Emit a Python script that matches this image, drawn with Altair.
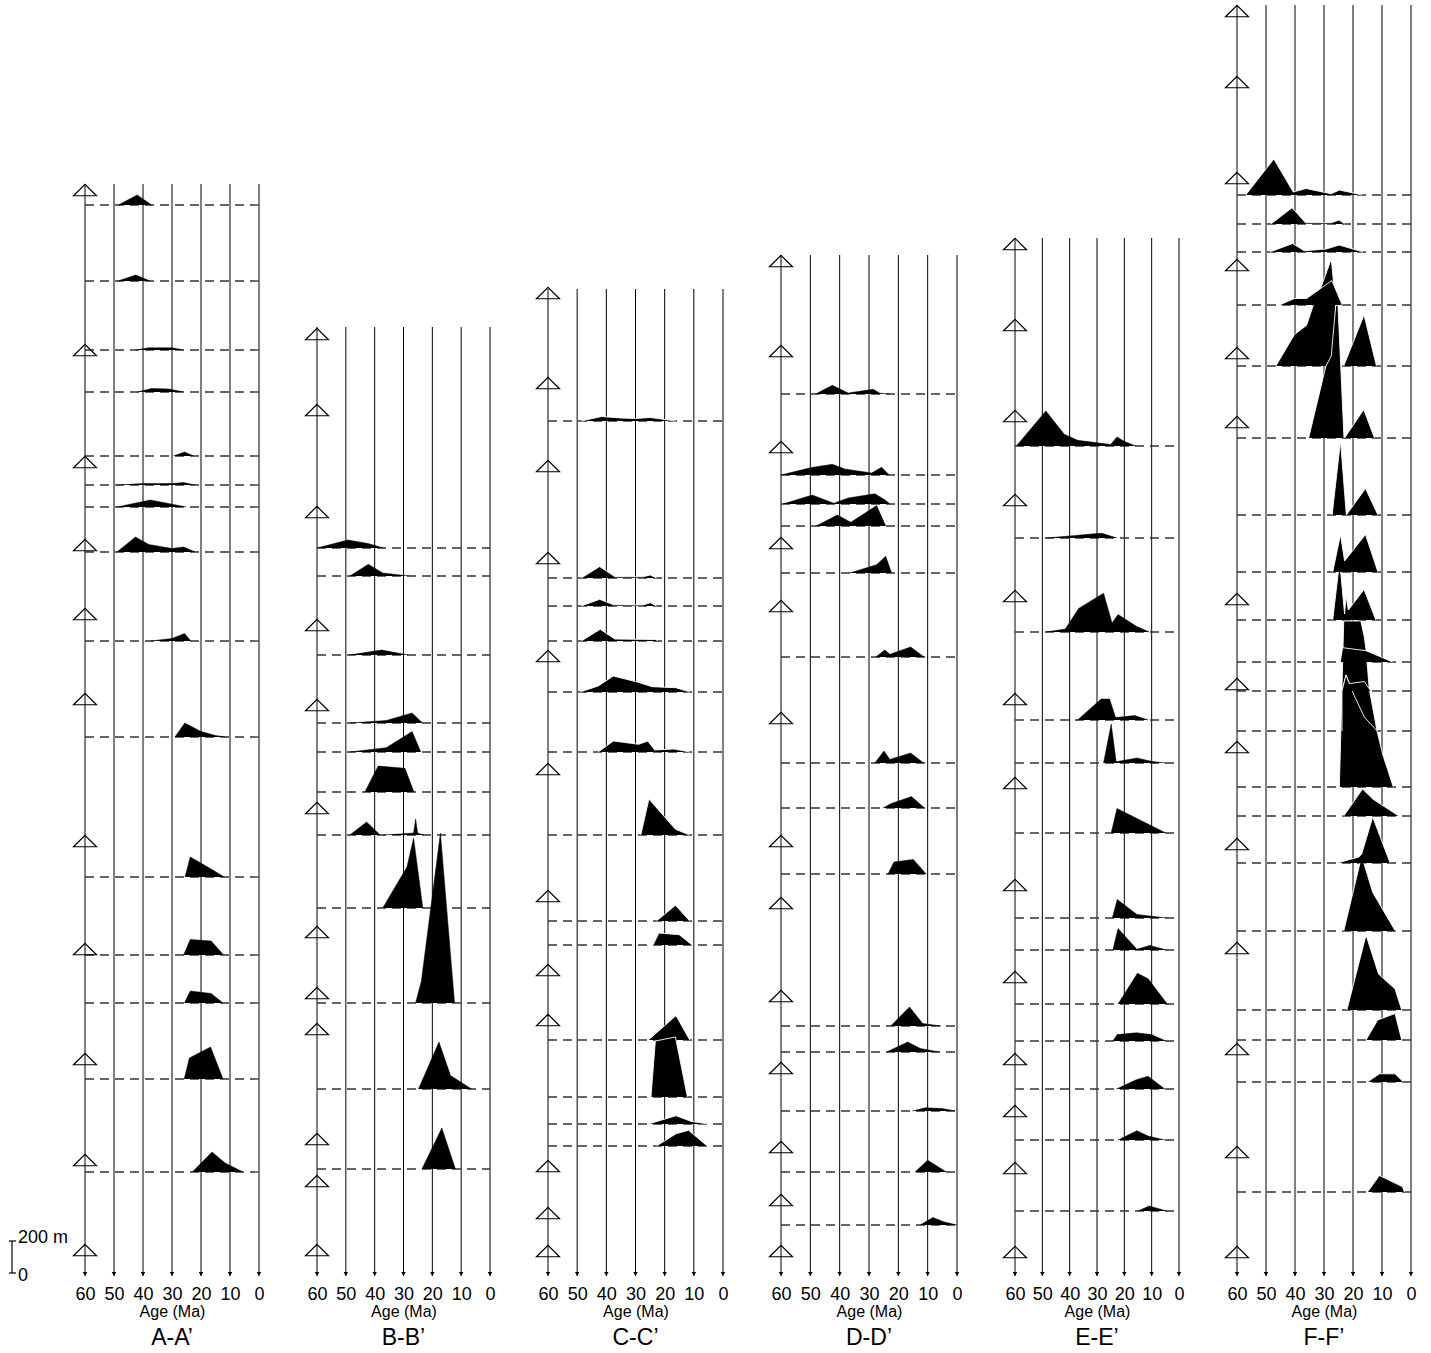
import altair as alt
import pandas as pd

FONT = "Liberation Sans"
PANEL_NAMES = ["A-A’", "B-B’", "C-C’", "D-D’", "E-E’", "F-F’"]
AGE_TICKS = [60, 50, 40, 30, 20, 10, 0]
PANEL_TOPS = [1091, 948, 986, 1020, 1037, 1270]
PANEL_WIDTHS = [174, 173, 175, 176, 164, 174]
OUTLINED = {"C-C’", "F-F’"}

# sample positions (triangles on the 60 Ma line), vertical level units
A_SAMPLES = [1085, 925, 813, 730, 661, 576, 434, 326, 216, 115, 25]
B_SAMPLES = [941, 865, 763, 650, 570, 467, 343, 282, 246, 136, 94, 25]
C_SAMPLES = [982, 892, 809, 717, 619, 506, 379, 305, 255, 109, 62, 24]
D_SAMPLES = [1014, 924, 828, 732, 669, 557, 434, 372, 279, 207, 128, 75, 24]
E_SAMPLES = [1031, 950, 859, 775, 679, 576, 492, 390, 298, 216, 164, 107, 23]
F_SAMPLES = [1264, 1193, 1097, 1010, 922, 853, 676, 591, 528, 431, 327, 226, 123, 23]

# age spectra: (baseline level, [(age Ma, relative height), ...]) in drawing order
A_SPECTRA = [
    (1070, [(48.5, 0), (42, 10), (37, 0)]),
    (994, [(48.7, 0), (42.5, 6), (37.5, 0)]),
    (925, [(42.5, 0), (38, 2.2), (30, 2.2), (26, 0)]),
    (883, [(42, 0), (37, 3.5), (31, 3), (26, 0)]),
    (819, [(29.5, 0), (25.7, 4), (22.5, 0)]),
    (790, [(49, 0), (40, 1.4), (30, 1.4), (26, 2.5), (22, 0)]),
    (768, [(49, 0), (37.5, 7), (25, 0)]),
    (723, [(49, 0), (42.6, 15), (38, 7.5), (30, 3.5), (26, 5), (22, 0)]),
    (634, [(37.5, 0), (30, 2.5), (25.7, 7.5), (23.5, 0)]),
    (538, [(29, 0), (25.6, 14), (20, 5.5), (15, 1.5), (11.5, 0)]),
    (398, [(25.5, 0), (23.7, 20), (16.5, 8), (12, 0)]),
    (320, [(26, 0), (23.7, 15.5), (16.5, 14), (12.2, 0)]),
    (272, [(25.7, 0), (23.7, 12), (16.5, 9.5), (12.4, 0)]),
    (196, [(25.8, 0), (24, 21), (16.7, 32), (12.4, 0)]),
    (103, [(23, 0), (16.2, 20), (11.7, 9), (5.5, 0)]),
]
B_SPECTRA = [
    (727, [(60, 0), (49.3, 8), (42.3, 4.5), (37, 0)]),
    (699, [(48.6, 0), (42.2, 11.7), (37.2, 3), (28, 0)]),
    (620, [(48.8, 0), (37.6, 5), (28.4, 0)]),
    (552, [(48.6, 0), (36, 2.5), (27, 10), (23.4, 0)]),
    (523, [(48.6, 0), (36, 4.3), (27, 20.4), (24, 0)]),
    (483, [(43.4, 0), (38.8, 26), (29.5, 23.7), (26.4, 0)]),
    (440, [(48.6, 0), (42.8, 13), (38.1, 0)]),
    (440, [(37.2, 0), (30, 1.2), (26.5, 2), (25.8, 16), (25.1, 2), (23, 0)]),
    (367, [(37.2, 0), (28.8, 41), (26.5, 70), (23.3, 0)]),
    (272, [(25.8, 0), (23.8, 22), (17.2, 170), (12.3, 0)]),
    (186, [(24.8, 0), (17.7, 47), (13.7, 13.5), (6.4, 0)]),
    (106, [(23.6, 0), (16.7, 41), (12, 0)]),
]
C_SPECTRA = [
    (854, [(48.6, 0), (41.6, 4.5), (35, 3), (30, 2.5), (25, 3.5), (16.2, 0)]),
    (697, [(48.6, 0), (42.3, 11.4), (37, 1.2), (27.5, 1.2), (24.9, 3), (22.8, 0)]),
    (669, [(48.6, 0), (42.3, 6.7), (37.5, 1.2), (27.5, 1), (24.9, 3.3), (22.8, 0)]),
    (634, [(48.6, 0), (42.1, 11.7), (37.1, 2), (23, 1.5), (22.5, 0)]),
    (583, [(49, 0), (42.8, 6), (37.6, 16), (29.4, 10), (24.3, 5.3), (16.2, 4.3), (11.3, 0)]),
    (523, [(42.8, 0), (37.6, 11), (28.9, 7.7), (25.8, 11), (23.4, 2), (16.8, 3), (11.3, 0)]),
    (440, [(28.2, 0), (25.4, 36), (16.3, 5.7), (11.4, 0)]),
    (354, [(22.8, 0), (16.3, 15.7), (11.4, 0)]),
    (330, [(24, 0), (22, 12), (15, 10.3), (10.6, 0)]),
    (235, [(25.6, 0), (16.1, 24.4), (11.4, 0)]),
    (178, [(24.7, 0), (23.2, 56), (16.3, 60), (12.2, 0)]),
    (151, [(25.6, 0), (16.1, 8.3), (11, 2.7), (5.2, 0)]),
    (129, [(22.8, 0), (16.1, 12.3), (11.8, 15.7), (5.4, 0)]),
]
D_SPECTRA = [
    (881, [(48.2, 0), (42.5, 8.7), (37.1, 1), (28.6, 4.7), (26.3, 0.8), (22.9, 0)]),
    (800, [(60, 0), (50, 7.3), (42.5, 10.7), (38.3, 6), (29.1, 2), (25.7, 7.7), (23.1, 0)]),
    (771, [(59.3, 0), (49.4, 9), (42, 0.7), (37.1, 6), (28, 10.3), (24.5, 4), (22.9, 0)]),
    (749, [(48, 0), (40.8, 11), (36.2, 3.7), (27.4, 20.4), (24.3, 0)]),
    (702, [(36.6, 0), (27.4, 8.3), (24.3, 16.7), (22.3, 0)]),
    (618, [(27.7, 0), (24.6, 7), (22.9, 2.7), (15.8, 10), (11.2, 0)]),
    (512, [(28, 0), (24.9, 12), (22.9, 3.6), (15.8, 10), (11.4, 0)]),
    (467, [(25.2, 0), (22.6, 4.3), (15.5, 11.4), (11.1, 0)]),
    (401, [(23.5, 0), (21.5, 12), (14.9, 14.6), (10.5, 0)]),
    (249, [(22.6, 0), (16.2, 19), (11.7, 2.5), (5.4, 0)]),
    (223, [(24, 0), (16.8, 10), (12.5, 3.6), (6, 0)]),
    (164, [(15.2, 0), (10.8, 3.2), (5, 2.5), (0.6, 0)]),
    (103, [(14.3, 0), (10, 11.8), (3.6, 0)]),
    (50, [(12.6, 0), (8.2, 7.5), (4.6, 3.2), (0, 0)]),
]
E_SPECTRA = [
    (829, [(59.5, 0), (48.7, 35), (42, 11.8), (37.1, 5.7), (25, 1.5), (22.7, 9), (19.9, 4.4), (15.8, 0)]),
    (737, [(48.7, 0), (40, 2), (30, 4.5), (28.2, 4.7), (22.7, 0)]),
    (643, [(48.7, 0), (41.6, 3), (36.7, 23.6), (27.6, 38.8), (24.5, 9), (22.3, 17.5), (15.6, 5.7), (10.9, 0)]),
    (555, [(37.1, 0), (28.5, 21), (25.4, 21), (23.2, 2.4), (16.2, 4.4), (11.3, 0)]),
    (512, [(27.6, 0), (24.8, 39), (23, 1.5), (22.5, 1.5), (15.4, 5), (9.7, 1.4), (4.8, 0)]),
    (442, [(24.8, 0), (22.7, 24.6), (4.8, 0)]),
    (357, [(24.4, 0), (22.6, 18.5), (15.4, 3.6), (4.5, 0)]),
    (325, [(24.2, 0), (22.3, 21.4), (15.4, 0.7), (10.7, 4.6), (4.5, 0)]),
    (271, [(22.3, 0), (15.2, 30.7), (11.3, 25.3), (4.3, 0)]),
    (234, [(24.2, 0), (22.6, 6.4), (15.6, 8.2), (10.1, 6.4), (4.8, 0)]),
    (186, [(22.9, 0), (15.6, 9.3), (11.3, 12.8), (5.2, 0)]),
    (135, [(22.3, 0), (15.4, 9.3), (11.3, 3.9), (5.2, 0)]),
    (64, [(15, 0), (10.9, 5), (4.5, 0)]),
]
F_SPECTRA = [
    (83, [(15, 0), (10.9, 16.5), (2.9, 5.2), (2.3, 0)]),
    (193, [(15, 0), (10.9, 8.2), (5.5, 8.2), (2.6, 0)]),
    (235, [(15.5, 0), (11.5, 20), (5.5, 26.4), (3.2, 0)]),
    (265, [(22.1, 0), (15.5, 75), (11.2, 36), (5.5, 21), (3.2, 0)]),
    (344, [(23.2, 0), (17, 75), (13.2, 38.6), (5.4, 0)]),
    (412, [(25.5, 0), (18, 6), (17, 9), (13.2, 46), (7.2, 0)]),
    (459, [(23.2, 0), (16.7, 27), (13.2, 17), (4.2, 0)]),
    (488, [(24.7, 0), (23.2, 166), (17.3, 166), (16.1, 150), (15.5, 137), (14.4, 98), (11.7, 56), (9.8, 33), (6.1, 0)]),
    (544, [(23.8, 0), (23.8, 40), (22.4, 56), (19.6, 35.5), (16.1, 14), (11.7, 0)]),
    (584, [(23.8, 0), (22.4, 16), (21.3, 7.4), (16.1, 9.5), (14.4, 2.2), (13.8, 0)]),
    (613, [(24.4, 0), (23.6, 14.3), (15.5, 11.3), (6.3, 0)]),
    (655, [(27, 0), (24.6, 59), (22.9, 6), (22.4, 24), (21.6, 10), (16.2, 30.5), (12.1, 0)]),
    (703, [(27, 0), (24.3, 37.5), (22.9, 11), (15.7, 37.5), (11.4, 0)]),
    (760, [(27.2, 0), (24.3, 74), (22.3, 0), (15.7, 26.5), (11.4, 0)]),
    (837, [(35.3, 0), (29.3, 72.5), (26, 131.6), (25.2, 133.7), (23.1, 0)]),
    (837, [(22.9, 0), (16.3, 28.5), (12.6, 0)]),
    (909, [(46.6, 0), (40.2, 31.4), (36, 40.7), (33.9, 59), (31.2, 77.4), (27.5, 107), (26.7, 83.5), (26, 59), (27.5, 10), (29.3, 0)]),
    (909, [(23.2, 0), (16.2, 51), (11.9, 0)]),
    (970, [(45.4, 0), (40.2, 6.5), (36, 6.5), (27.3, 24.5), (23.7, 0)]),
    (1023, [(48.7, 0), (40.8, 8.5), (36.8, 1.2), (29.2, 3), (24.8, 7), (16.5, 0)]),
    (1051, [(48.3, 0), (41, 16.3), (36.4, 1.2), (27.5, 1.2), (24.8, 4), (22.9, 0)]),
    (1080, [(57, 0), (47.3, 36), (40.6, 3), (36.2, 6.5), (27.5, 1.2), (24.7, 5), (16.8, 0)]),
]

SAMPLES = [A_SAMPLES, B_SAMPLES, C_SAMPLES, D_SAMPLES, E_SAMPLES, F_SAMPLES]
SPECTRA = [A_SPECTRA, B_SPECTRA, C_SPECTRA, D_SPECTRA, E_SPECTRA, F_SPECTRA]

# scale bar (level units): 0 and 200 m
SCALE_LABELS = ["0", "200 m"]
SCALE_LEVELS = [2, 34]

TRI_PATH = "M-1,0.5L0,-0.5L1,0.5Z"

XS = alt.Scale(domain=[0, 60], reverse=True, nice=False, zero=False)
YS = alt.Scale(domain=[0, 1270], nice=False, zero=False)
XA = alt.Axis(values=AGE_TICKS, format="d", labelFontSize=18, labelFont=FONT,
              labelColor="black", labelPadding=10, ticks=False, tickSize=0,
              domain=False, grid=False, title="Age (Ma)", titleFontSize=16,
              titleFont=FONT, titleFontWeight="normal", titleColor="black",
              titlePadding=0, labelFlush=False, labelOverlap=False)


def xf(field):
    return alt.X(field, type="quantitative", scale=XS, axis=XA)


def yf(field):
    return alt.Y(field, type="quantitative", scale=YS, axis=None)


def panel(idx):
    name = PANEL_NAMES[idx]
    top = PANEL_TOPS[idx]
    grid_df = pd.DataFrame({"age": AGE_TICKS, "lo": [-1] * len(AGE_TICKS),
                            "hi": [top] * len(AGE_TICKS)})
    base_df = pd.DataFrame({"level": sorted(set(b for b, _ in SPECTRA[idx]))})
    tri_df = pd.DataFrame({"level": SAMPLES[idx]})
    rows = []
    for k, (base, pts) in enumerate(SPECTRA[idx]):
        for i, (age, h) in enumerate(pts):
            rows.append({"shape": f"{idx}-{k:02d}", "i": i, "age": age,
                         "level": base + h})
    vert_df = pd.DataFrame(rows)

    grid = alt.Chart(grid_df).mark_rule(color="black", strokeWidth=1).encode(
        x=xf("age"), y=yf("lo"), y2="hi")
    arrows = alt.Chart(grid_df).mark_point(
        shape="triangle-down", filled=True, size=20, color="black", opacity=1
    ).encode(x=xf("age"), y=alt.Y(datum=1, scale=YS, axis=None))
    dashes = alt.Chart(base_df).mark_rule(
        color="#333333", strokeWidth=1.3, strokeDash=[9, 6]
    ).encode(x=alt.X(datum=60, scale=XS, axis=XA), x2=alt.X2(datum=0), y=yf("level"))
    if name in OUTLINED:
        shape_mark = alt.Chart(vert_df).mark_line(
            filled=True, fill="black", stroke="white", strokeWidth=0.9,
            strokeJoin="round")
    else:
        shape_mark = alt.Chart(vert_df).mark_line(
            filled=True, fill="black", stroke="black", strokeWidth=0.5,
            strokeJoin="round")
    shapes = shape_mark.encode(x=xf("age"), y=yf("level"),
                               detail="shape:N", order="i:Q")
    tris = alt.Chart(tri_df).mark_point(
        shape=TRI_PATH, size=529, filled=False, color="black", strokeWidth=1.2,
        opacity=1
    ).encode(x=alt.X(datum=60, scale=XS, axis=XA), y=yf("level"))

    layers = [grid, arrows, dashes, shapes, tris]
    if idx == 0:
        sb_df = pd.DataFrame({"lo": [SCALE_LEVELS[0]], "hi": [SCALE_LEVELS[1]]})
        sb_ticks = pd.DataFrame({"level": SCALE_LEVELS})
        bar = alt.Chart(sb_df).mark_rule(color="black", strokeWidth=1.2).encode(
            x=alt.value(-73), y=yf("lo"), y2="hi")
        ticks = alt.Chart(sb_ticks).mark_rule(color="black", strokeWidth=1.2).encode(
            x=alt.value(-76), x2=alt.value(-69), y=yf("level"))
        lab_top = alt.Chart(pd.DataFrame({"level": [SCALE_LEVELS[1]], "t": [SCALE_LABELS[1]]})
                            ).mark_text(align="left", baseline="middle", fontSize=18,
                                        font=FONT, dy=-3, color="black").encode(
            x=alt.value(-67), y=yf("level"), text="t:N")
        lab_bot = alt.Chart(pd.DataFrame({"level": [SCALE_LEVELS[0]], "t": [SCALE_LABELS[0]]})
                            ).mark_text(align="left", baseline="middle", fontSize=18,
                                        font=FONT, dy=3, color="black").encode(
            x=alt.value(-67), y=yf("level"), text="t:N")
        layers += [bar, ticks, lab_top, lab_bot]

    return alt.layer(*layers).properties(
        width=PANEL_WIDTHS[idx], height=1270,
        title=alt.TitleParams(name, orient="bottom", anchor="middle", fontSize=23,
                              font=FONT, fontWeight="normal", color="black", offset=8))


chart = alt.hconcat(*[panel(i) for i in range(6)], spacing=58, bounds="flush").properties(
    padding={"left": 8, "top": 2, "right": 5, "bottom": 5}
).configure(
    font=FONT, view=alt.ViewConfig(stroke="transparent", strokeWidth=0)
)

chart.save("out.html", embed_options={"renderer": "svg", "actions": False})
